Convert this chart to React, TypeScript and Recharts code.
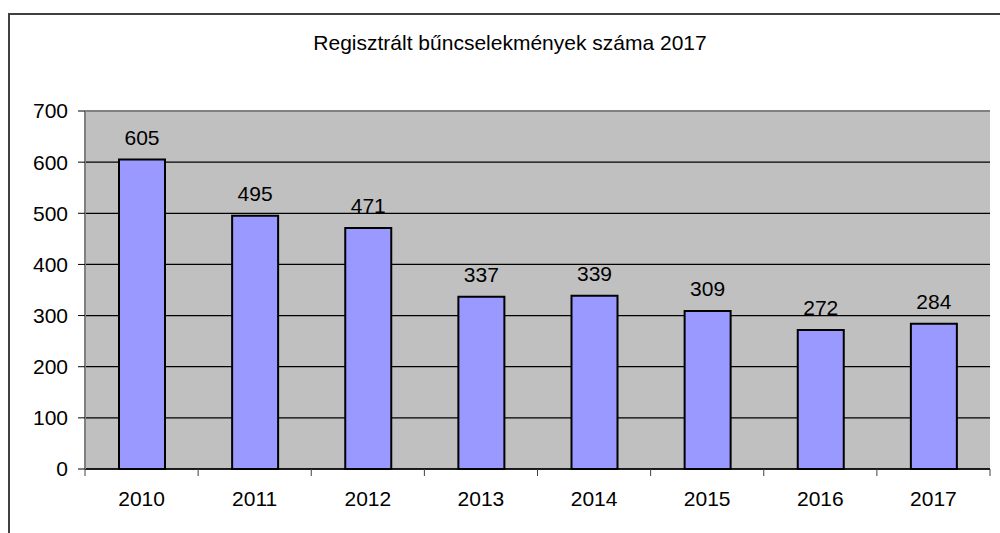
import { BarChart, Bar, XAxis, YAxis, CartesianGrid, ReferenceLine, LabelList } from 'recharts'

const years = ['2010', '2011', '2012', '2013', '2014', '2015', '2016', '2017']
const crimes = [605, 495, 471, 337, 339, 309, 272, 284]
const yTicks = [0, 100, 200, 300, 400, 500, 600, 700]

const data = years.map((year, i) => ({ year, value: crimes[i] }))

const font = "'Liberation Sans', Arial, sans-serif"
const X_TICK_SIZE = 7
const X_TICK_MARGIN = 15

// category label plus the tick marks between categories (Excel style)
function YearTick(props: any) {
  const { x, y, payload, width, visibleTicksCount, index } = props
  const band = width / visibleTicksCount
  const top = y - X_TICK_SIZE - X_TICK_MARGIN
  return (
    <g>
      <line x1={x - band / 2} x2={x - band / 2} y1={top} y2={top + X_TICK_SIZE} stroke="#404040" />
      {index === visibleTicksCount - 1 && (
        <line x1={x + band / 2} x2={x + band / 2} y1={top} y2={top + X_TICK_SIZE} stroke="#404040" />
      )}
      <text x={x} y={y} dy="0.71em" textAnchor="middle" fontSize={21} fill="#000" fontFamily={font}>
        {payload.value}
      </text>
    </g>
  )
}

export default function App() {
  return (
    <div
      style={{
        position: 'absolute',
        left: 0,
        top: 0,
        width: 1000,
        height: 533,
        background: '#fff',
        overflow: 'hidden',
        fontFamily: font,
      }}
    >
      {/* clipped outer frame */}
      <div
        style={{
          position: 'absolute',
          left: 8,
          top: 13,
          width: 1000,
          height: 600,
          borderLeft: '2px solid #404040',
          borderTop: '2px solid #404040',
        }}
      />
      <div
        style={{
          position: 'absolute',
          left: 0,
          width: 1020,
          top: 31,
          textAlign: 'center',
          fontSize: 21,
          color: '#000',
        }}
      >
        Regisztrált bűncselekmények száma 2017
      </div>
      <BarChart
        width={1000}
        height={533}
        data={data}
        margin={{ top: 111, right: 10, bottom: 24, left: 0 }}
        style={{ position: 'absolute', left: 0, top: 0 }}
      >
        <CartesianGrid vertical={false} fill="#C0C0C0" stroke="#000" strokeWidth={1.2} />
        <XAxis
          dataKey="year"
          height={40}
          interval={0}
          axisLine={{ stroke: '#000', strokeWidth: 1.5 }}
          tickLine={false}
          tickSize={X_TICK_SIZE}
          tickMargin={X_TICK_MARGIN}
          tick={<YearTick />}
        />
        <YAxis
          width={85}
          domain={[0, 700]}
          ticks={yTicks}
          interval={0}
          tickSize={7}
          tickMargin={10}
          axisLine={{ stroke: '#808080', strokeWidth: 2 }}
          tickLine={{ stroke: '#000' }}
          tick={{ fontSize: 21, fill: '#000', fontFamily: font }}
        />
        <YAxis
          yAxisId="r"
          orientation="right"
          width={0}
          domain={[0, 700]}
          tick={false}
          tickLine={false}
          axisLine={{ stroke: '#808080', strokeWidth: 2 }}
        />
        <ReferenceLine y={700} stroke="#808080" strokeWidth={2} />
        <Bar dataKey="value" fill="#9999FF" stroke="#000" strokeWidth={2} barSize={46} isAnimationActive={false}>
          <LabelList
            dataKey="value"
            position="top"
            offset={15}
            fill="#000"
            fontSize={21}
            fontFamily={font}
          />
        </Bar>
      </BarChart>
    </div>
  )
}
